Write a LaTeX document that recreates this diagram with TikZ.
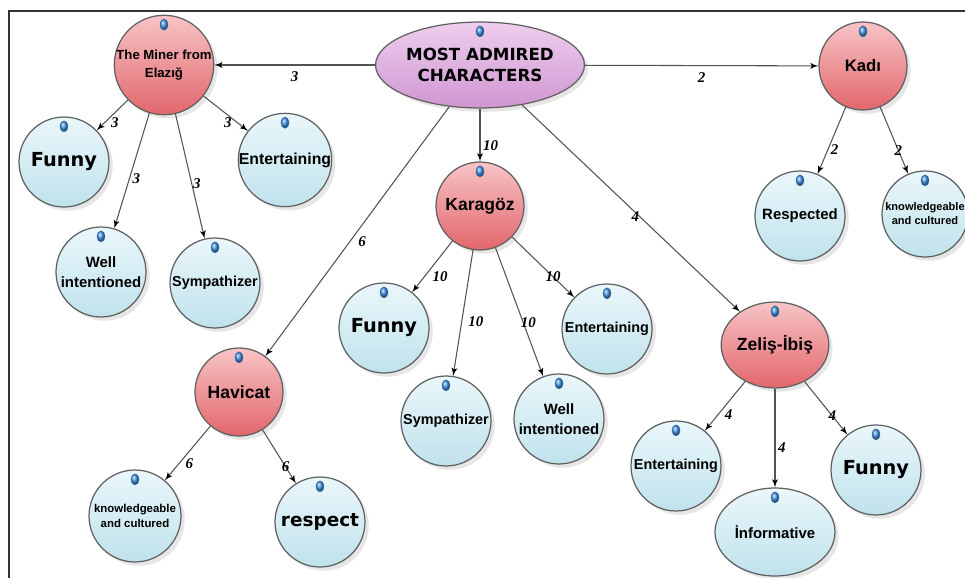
\documentclass[tikz,border=0pt]{standalone}
\usepackage{fontspec}
\setsansfont{Liberation Sans}
\newfontfamily\widefont{DejaVu Sans}
\newfontfamily\numfont{Liberation Serif}
\usepackage{tikz}
\usetikzlibrary{arrows}
\usetikzlibrary{shadows}
\usetikzlibrary{shapes.geometric}

\definecolor{btop}{RGB}{234,247,251}
\definecolor{bbot}{RGB}{192,226,236}
\definecolor{rtop}{RGB}{247,196,198}
\definecolor{rbot}{RGB}{226,102,108}
\definecolor{ptop}{RGB}{238,206,238}
\definecolor{pbot}{RGB}{208,150,210}
\definecolor{pinblue}{RGB}{70,150,230}
\newcommand{\txt}[2]{\fontsize{#1}{#2}\selectfont}

\begin{document}
\begin{tikzpicture}[x=0.02cm,y=-0.02cm]
		\tikzset{leaf/.style = {shape=circle,draw=gray!75!black,line width=0.7pt,minimum size=1.8cm,inner sep=0pt,align=center,
				top color=btop,bottom color=bbot,drop shadow={opacity=.2},font=\sffamily\bfseries\txt{8.5}{11}}}
		\tikzset{hero/.style = {leaf,top color=rtop,bottom color=rbot,minimum size=1.76cm,font=\sffamily\bfseries\txt{10}{12}}}
		\tikzset{edge/.style = {->,> = latex',draw=gray!65!black,line width=0.6pt}}
		\tikzset{num/.style = {font=\numfont\bfseries\itshape\txt{8.5}{9},inner sep=1.5pt}}
		\tikzset{pinmark/.style = {ball color=pinblue,draw=pinblue!70!black,line width=0.3pt}}
		\useasboundingbox (0,0) rectangle (965,578);
		\draw[gray!40!black,line width=0.7pt] (9,578) -- (9,11) -- (965,11);
		% vertices
		\node[leaf,shape=ellipse,minimum width=4.08cm,minimum height=1.72cm,top color=ptop,bottom color=pbot,
			font=\widefont\bfseries\txt{9.5}{12}] (root) at (480,65) {MOST ADMIRED\\CHARACTERS};
		\node[hero,minimum size=1.92cm,font=\sffamily\bfseries\txt{7.5}{10}] (miner) at (164,65) {The Miner from\\Elaz\i\u{g}};
		\node[leaf,font=\widefont\bfseries\txt{11}{12}] (funnyA) at (64,162) {Funny};
		\node[leaf,font=\sffamily\bfseries\txt{9}{11}] (entA) at (285,160) {Entertaining};
		\node[leaf] (wellA) at (101,272) {Well\\intentioned};
		\node[leaf,font=\sffamily\bfseries\txt{8.2}{10}] (sympA) at (215,283) {Sympathizer};
		\node[hero,font=\sffamily\bfseries\txt{9.5}{11}] (kadi) at (863,66) {Kadı};
		\node[leaf] (respd) at (800,216) {Respected};
		\node[leaf,minimum size=1.72cm,font=\sffamily\bfseries\txt{6.3}{8}] (knowA) at (925,214) {knowledgeable\\and cultured};
		\node[hero] (karagoz) at (480,206) {Karagöz};
		\node[leaf,font=\widefont\bfseries\txt{11}{12}] (funnyB) at (384,328) {Funny};
		\node[leaf,font=\sffamily\bfseries\txt{8.2}{10}] (sympB) at (446,421) {Sympathizer};
		\node[leaf] (wellB) at (559,419) {Well\\intentioned};
		\node[leaf,font=\sffamily\bfseries\txt{8.2}{10}] (entB) at (607,329) {Entertaining};
		\node[hero] (havicat) at (239,392) {Havicat};
		\node[leaf,minimum size=1.84cm,font=\sffamily\bfseries\txt{6.5}{9}] (knowB) at (135,516) {knowledgeable\\and cultured};
		\node[leaf,font=\widefont\bfseries\txt{10.5}{12}] (respect) at (320,522) {respect};
		\node[hero,shape=ellipse,minimum width=2.08cm,minimum height=1.72cm] (zelis) at (775,345) {Zeliş-İbiş};
		\node[leaf,font=\sffamily\bfseries\txt{8.2}{10}] (entC) at (676,466) {Entertaining};
		\node[leaf,shape=ellipse,minimum width=2.4cm,minimum height=1.76cm] (inform) at (775,532) {İnformative};
		\node[leaf,font=\widefont\bfseries\txt{11}{12}] (funnyC) at (876,470) {Funny};
		% pins
		\foreach \n in {root,miner,funnyA,entA,wellA,sympA,kadi,respd,knowA,karagoz,funnyB,sympB,wellB,entB,havicat,knowB,respect,zelis,entC,inform,funnyC}
			\draw[pinmark] ([yshift=-0.2cm]\n.north) ellipse (4 and 5.5);
		% edges
		\path[edge] (root) edge node[num,below=2pt] {3} (miner);
		\path[edge] (root) edge node[num,below=2pt] {2} (kadi);
		\path[edge] (root) edge node[num,right,pos=.7] {10} (karagoz);
		\path[edge] (root) edge node[num,right=3pt,pos=.54] {6} (havicat);
		\path[edge] (root) edge node[num,left,pos=.54,inner sep=0pt] {4} (zelis);
		\path[edge] (miner) edge node[num,right=2pt,pos=.75] {3} (funnyA);
		\path[edge] (miner) edge node[num,right,pos=.57] {3} (wellA);
		\path[edge] (miner) edge node[num,right,pos=.56,inner sep=0.5pt] {3} (sympA);
		\path[edge] (miner) edge node[num,below,pos=.55,inner sep=1pt] {3} (entA);
		\path[edge] (kadi) edge node[num,right,pos=.64] {2} (respd);
		\path[edge] (kadi) edge node[num,pos=.65] {2} (knowA);
		\path[edge] (karagoz) edge node[num,right=3pt,pos=.7] {10} (funnyB);
		\path[edge] (karagoz) edge node[num,right=2pt,pos=.57] {10} (sympB);
		\path[edge] (karagoz) edge node[num,pos=.58,xshift=3pt] {10} (wellB);
		\path[edge] (karagoz) edge node[num,pos=.66] {10} (entB);
		\path[edge] (havicat) edge node[num,right=2pt,pos=.69] {6} (knowB);
		\path[edge] (havicat) edge node[num,pos=.69] {6} (respect);
		\path[edge] (zelis) edge node[num,right=2pt,pos=.67] {4} (entC);
		\path[edge] (zelis) edge node[num,right,pos=.6] {4} (inform);
		\path[edge] (zelis) edge node[num,pos=.65] {4} (funnyC);
\end{tikzpicture}
\end{document}
